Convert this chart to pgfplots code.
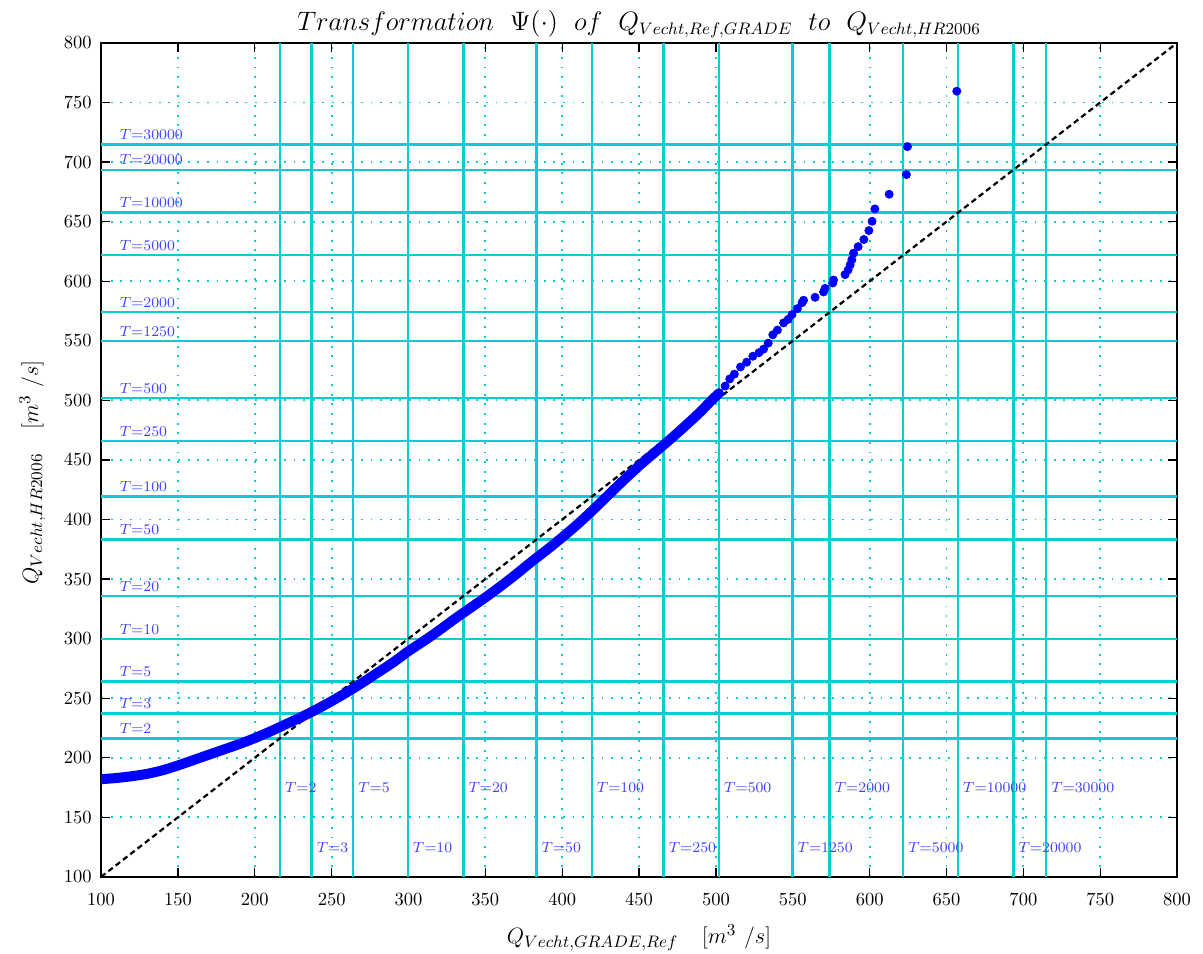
\documentclass[border=0pt]{standalone}
\usepackage{pgfplots}
\pgfplotsset{compat=1.18}
\definecolor{tcyan}{rgb}{0.05,0.80,0.82}
\definecolor{tblue}{RGB}{64,64,255}
\tikzset{hl/.style={tblue, font=\fontsize{8.4}{10}\selectfont, anchor=base west, inner sep=0pt, yshift=2.6pt},
         vl/.style={tblue, font=\fontsize{8.4}{10}\selectfont, anchor=west, inner sep=0pt, xshift=2.6pt}}
\begin{document}
\begin{tikzpicture}
\begin{axis}[
  scale only axis, width=581.4pt, height=450.6pt,
  xmin=100, xmax=800, ymin=100, ymax=800,
  xtick={100,150,...,800}, ytick={100,150,...,800},
  tick align=inside, tick pos=both, ticklabel pos=left,
  major tick length=5pt,
  tick style={black, line width=0.7pt},
  axis line style={line width=1.3pt},
  grid=major,
  major grid style={tcyan, line width=1pt, dash pattern=on 1pt off 4.2pt},
  xticklabel style={yshift=-5.5pt}, yticklabel style={xshift=-1.5pt},
  title={$Transformation\ \ \Psi(\cdot)\ \ of\ \ Q_{Vecht,Ref,GRADE}\ \ to\ \ Q_{Vecht,HR2006}$},
  title style={at={(axis description cs:0.5,1)}, anchor=south, inner sep=0pt, yshift=-3.5pt, font=\fontsize{13.3}{16}\selectfont},
  xlabel={$Q_{Vecht,GRADE,Ref}\quad[m^3\ /s]$},
  xlabel style={at={(axis description cs:0.5,-0.08)}, anchor=base, inner sep=0pt, font=\fontsize{12.7}{15}\selectfont},
  ylabel={$Q_{Vecht,HR2006}\quad[m^3\ /s]$},
  ylabel style={at={(axis description cs:-0.0585,0.485)}, anchor=base, inner sep=0pt, font=\fontsize{12.7}{15}\selectfont},
]
\pgfplotsinvokeforeach{216.3,237,264,299.5,335.7,383.2,419.2,466,502,549.8,574,621.8,657.5,693.5,714.8}{
  \addplot[tcyan, line width=1.3pt, forget plot] coordinates {(#1,100) (#1,800)};
  \addplot[tcyan, line width=1.3pt, forget plot] coordinates {(100,#1) (800,#1)};
}
\addplot[black, line width=1.2pt, dash pattern=on 3pt off 2pt] coordinates {(100,100) (800,800)};
\addplot[blue, line width=5.4pt, line cap=round, line join=round, smooth] coordinates {
(97,181.8) (100,182) (110,183) (120,184.5) (130,186.5) (140,189.5) (150,193.5) (160,198)
(170,202.5) (180,207) (190,211.5) (200,216.5) (210,222) (220,228) (230,234) (240,240.5)
(250,247.5) (260,255) (270,263) (280,271.5) (290,280) (300,289.5) (310,298) (320,307)
(330,316.5) (340,325.5) (350,334.5) (360,344) (370,354) (380,364.5) (390,374.5) (400,385)
(410,396) (420,408) (430,420.5) (440,433) (450,445) (460,456) (470,467) (480,478.5)
(490,490.5) (496,498.5) (502,506)
};
\addplot[only marks, mark=*, mark size=2.2pt, color=blue, mark options={draw=blue, fill=blue}] coordinates {
(506,512) (509,518) (512,522) (516,528) (520,532) (524,537) (528,540) (531,543) (534,548)
(537,555) (540,559) (544,565) (547,568) (549.5,572) (553,577) (556,582) (557,584)
(564.5,586.5) (570,591) (571,594) (576,598.5) (576.5,601) (584,605.5) (586,609.5)
(587.3,613.7) (588.4,618) (589.5,623.5) (592.5,629) (596.2,635) (599.5,642.5) (601.6,650.3)
(603.4,660.7) (612.7,673) (623.9,689.5) (624.6,713) (656.7,759.5)
};
% horizontal labels
\node[hl] at (axis cs:112,216.3) {$T{=}2$};
\node[hl] at (axis cs:112,237) {$T{=}3$};
\node[hl] at (axis cs:112,264) {$T{=}5$};
\node[hl] at (axis cs:112,299.5) {$T{=}10$};
\node[hl] at (axis cs:112,335.7) {$T{=}20$};
\node[hl] at (axis cs:112,383.2) {$T{=}50$};
\node[hl] at (axis cs:112,419.2) {$T{=}100$};
\node[hl] at (axis cs:112,466) {$T{=}250$};
\node[hl] at (axis cs:112,502) {$T{=}500$};
\node[hl] at (axis cs:112,549.8) {$T{=}1250$};
\node[hl] at (axis cs:112,574) {$T{=}2000$};
\node[hl] at (axis cs:112,621.8) {$T{=}5000$};
\node[hl] at (axis cs:112,657.5) {$T{=}10000$};
\node[hl] at (axis cs:112,693.5) {$T{=}20000$};
\node[hl] at (axis cs:112,714.8) {$T{=}30000$};
% vertical labels, upper row
\node[vl] at (axis cs:216.3,175) {$T{=}2$};
\node[vl] at (axis cs:264,175) {$T{=}5$};
\node[vl] at (axis cs:335.7,175) {$T{=}20$};
\node[vl] at (axis cs:419.2,175) {$T{=}100$};
\node[vl] at (axis cs:502,175) {$T{=}500$};
\node[vl] at (axis cs:574,175) {$T{=}2000$};
\node[vl] at (axis cs:657.5,175) {$T{=}10000$};
\node[vl] at (axis cs:714.8,175) {$T{=}30000$};
% vertical labels, lower row
\node[vl] at (axis cs:237,124.5) {$T{=}3$};
\node[vl] at (axis cs:299.5,124.5) {$T{=}10$};
\node[vl] at (axis cs:383.2,124.5) {$T{=}50$};
\node[vl] at (axis cs:466,124.5) {$T{=}250$};
\node[vl] at (axis cs:549.8,124.5) {$T{=}1250$};
\node[vl] at (axis cs:621.8,124.5) {$T{=}5000$};
\node[vl] at (axis cs:693.5,124.5) {$T{=}20000$};
\end{axis}
\pgfresetboundingbox
\path ([shift={(-54.6pt,-41.6pt)}]current axis.south west) rectangle ([shift={(14pt,23.2pt)}]current axis.north east);
\end{tikzpicture}
\end{document}
